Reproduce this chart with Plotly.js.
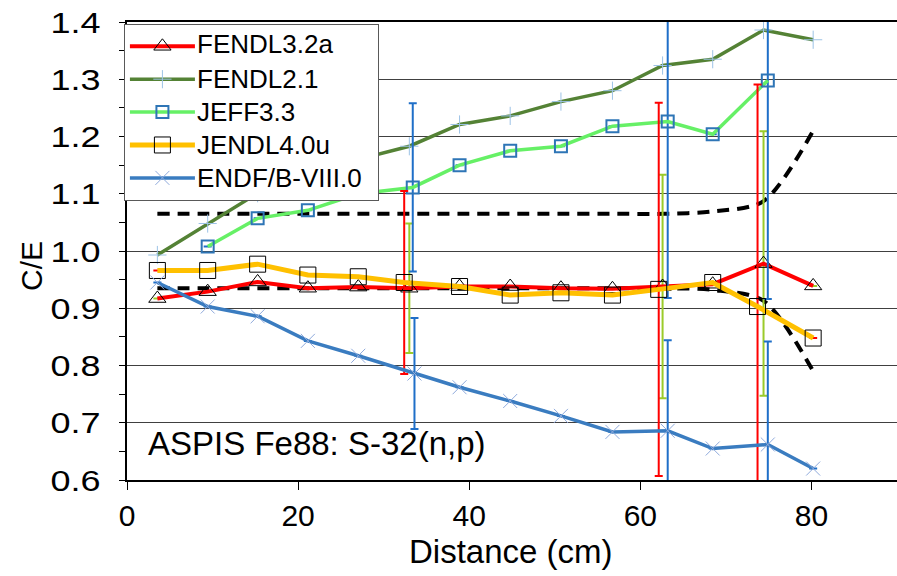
<!DOCTYPE html>
<html>
<head>
<meta charset="utf-8">
<script src="https://cdn.plot.ly/plotly-3.0.1.min.js"></script>
<style>html,body{margin:0;padding:0;background:#fff;}#chart{width:897px;height:576px;}</style>
</head>
<body>
<div id="chart"></div>
<script>
// ---- data ----
const seriesNames = ['FENDL3.2a', 'FENDL2.1', 'JEFF3.3', 'JENDL4.0u', 'ENDF/B-VIII.0'];

const fendl32X = [3.55, 9.43, 15.27, 21.14, 27.03, 33.0, 38.87, 44.79, 50.72, 56.74, 62.6, 68.46, 74.4, 80.2];
const fendl32Y = [0.917, 0.929, 0.946, 0.935, 0.937, 0.935, 0.938, 0.938, 0.935, 0.934, 0.938, 0.942, 0.978, 0.939];
const fendl32Err = [null, null, null, null, null, 0.113, null, null, null, null, 0.195, null, 0.231, null];

const fendl21X = [3.55, 9.43, 15.27, 21.14, 27.03, 33.0, 38.87, 44.79, 50.72, 56.74, 62.6, 68.46, 74.4, 80.2];
const fendl21Y = [0.993, 1.048, 1.101, 1.132, 1.160, 1.183, 1.221, 1.236, 1.261, 1.280, 1.324, 1.335, 1.386, 1.369];

const jeffX = [9.43, 15.27, 21.14, 27.03, 33.4, 38.87, 44.79, 50.72, 56.74, 63.2, 68.46, 74.9];
const jeffY = [1.008, 1.057, 1.071, 1.100, 1.111, 1.150, 1.175, 1.183, 1.218, 1.226, 1.204, 1.298];
const jeffErr = [null, null, null, null, 0.147, null, null, null, null, 0.308, null, 0.382];

const jendlX = [3.55, 9.43, 15.27, 21.14, 27.03, 32.4, 38.87, 44.79, 50.72, 56.74, 62.15, 68.46, 73.7, 80.2];
const jendlY = [0.966, 0.966, 0.977, 0.958, 0.955, 0.945, 0.938, 0.923, 0.927, 0.923, 0.933, 0.945, 0.903, 0.848];
const jendlErr = [null, null, null, null, null, 0.16, null, null, null, null, 0.326, null, 0.388, null];

const endfX = [3.55, 9.43, 15.27, 21.14, 27.03, 33.6, 38.87, 44.79, 50.72, 56.74, 63.2, 68.46, 74.9, 80.2];
const endfY = [0.945, 0.903, 0.886, 0.843, 0.817, 0.786, 0.762, 0.738, 0.712, 0.684, 0.686, 0.655, 0.662, 0.620];
const endfErr = [null, null, null, null, null, 0.097, null, null, null, null, 0.158, null, 0.180, null];

const bandX = [3.55, 9.43, 15.27, 21.14, 27.03, 33.0, 38.87, 44.79, 50.72, 56.74, 62.6, 68.46, 74.4, 80.2];
const bandUpper = [1.065, 1.065, 1.065, 1.065, 1.065, 1.065, 1.065, 1.065, 1.065, 1.065, 1.065, 1.069, 1.087, 1.21];
const bandLower = [0.935, 0.935, 0.935, 0.935, 0.935, 0.935, 0.935, 0.935, 0.935, 0.935, 0.935, 0.932, 0.913, 0.79];

const xTickVals = [0, 20, 40, 60, 80];
const yTickVals = [0.6, 0.7, 0.8, 0.9, 1.0, 1.1, 1.2, 1.3, 1.4];
const yTickText = ['0.6', '0.7', '0.8', '0.9', '1.0', '1.1', '1.2', '1.3', '1.4'];

const FONT = 'Arial, "Liberation Sans", sans-serif';
const M = {l: 127, r: 0, t: 22, b: 96};
const PH = 576 - M.t - M.b, PW = 897 - M.l - M.r;

function errBar(arr, color) {
  return {type: 'data', array: arr, visible: true, color: color, thickness: 2, width: 4};
}
// legend keys come from Plotly's legend; the labels are drawn as annotations.
// Legend entry names are blank spacers that set the box width.
const SPACER = '\u00a0'.repeat(27);

const traces = [
  {x: bandX, y: bandUpper, mode: 'lines', showlegend: false, hoverinfo: 'skip',
   line: {color: '#000', width: 4, dash: '12px,8px', shape: 'spline', smoothing: 0.8}},
  {x: bandX, y: bandLower, mode: 'lines', showlegend: false, hoverinfo: 'skip',
   line: {color: '#000', width: 4, dash: '12px,8px', shape: 'spline', smoothing: 0.8}},
  {x: fendl32X, y: fendl32Y, name: SPACER, mode: 'lines+markers',
   line: {color: '#FF0000', width: 4},
   marker: {symbol: 'triangle-up', size: 15, color: 'rgba(255,255,255,0)', line: {color: '#000', width: 1}},
   error_y: errBar(fendl32Err, '#9BCB2A')},
  {x: fendl21X, y: fendl21Y, name: SPACER, mode: 'lines+markers',
   line: {color: '#548235', width: 3.5},
   marker: {symbol: 'cross-thin', size: 13, color: '#9DC3E6', line: {color: '#9DC3E6', width: 1}}},
  {x: jeffX, y: jeffY, name: SPACER, mode: 'lines+markers',
   line: {color: '#66F066', width: 3.5},
   marker: {symbol: 'square-open', size: 12, color: '#2E75B6', line: {color: '#2E75B6', width: 2}},
   error_y: errBar(jeffErr, '#1F6FC8')},
  {x: jendlX, y: jendlY, name: SPACER, mode: 'lines+markers',
   line: {color: '#FFC000', width: 5},
   marker: {symbol: 'square-open', size: 16, color: '#000', line: {color: '#000', width: 1}},
   error_y: errBar(jendlErr, '#FF0000')},
  {x: endfX, y: endfY, name: SPACER, mode: 'lines+markers',
   line: {color: '#3A7CC0', width: 3.5},
   marker: {symbol: 'x-thin', size: 14, color: '#8FAADC', line: {color: '#8FAADC', width: 1}},
   error_y: errBar(endfErr, '#1F6FC8')}
];

const baseAnnotations = [
  {text: 'ASPIS Fe88: S-32(n,p)', xref: 'paper', yref: 'y', x: (146 - M.l) / PW, y: 0.664,
   xanchor: 'left', yanchor: 'middle', showarrow: false,
   font: {family: FONT, size: 33, color: '#000'}},
  {text: 'C/E', xref: 'paper', yref: 'paper', x: (31 - M.l) / PW, y: 1 - (266 - M.t) / PH,
   xanchor: 'center', yanchor: 'middle', showarrow: false, textangle: -90,
   font: {family: FONT, size: 30, color: '#000'}},
  {text: 'Distance (cm)', xref: 'paper', yref: 'paper', x: (511 - M.l) / PW, y: 1 - (551 - M.t) / PH,
   xanchor: 'center', yanchor: 'middle', showarrow: false,
   font: {family: FONT, size: 33, color: '#000'}}
];

const layout = {
  width: 897, height: 576,
  margin: {l: M.l, r: M.r, t: M.t, b: M.b, pad: 0},
  paper_bgcolor: '#fff', plot_bgcolor: '#fff',
  font: {family: FONT, color: '#000'},
  showlegend: true,
  legend: {
    x: -0.004, y: 0.996, xanchor: 'left', yanchor: 'top',
    bgcolor: '#fff', bordercolor: '#595959', borderwidth: 1,
    font: {family: FONT, size: 23, color: 'rgba(0,0,0,0)'},
    itemwidth: 65, tracegroupgap: 0
  },
  xaxis: {
    range: [0, 90], tickvals: xTickVals, ticks: 'outside', ticklen: 8, tickwidth: 1, tickcolor: '#000',
    showgrid: false, zeroline: false, showline: true, linecolor: '#000', linewidth: 2, mirror: true,
    tickfont: {family: FONT, size: 30, color: '#000'}
  },
  yaxis: {
    range: [0.6, 1.4], tickvals: yTickVals, ticktext: yTickText, ticks: 'outside', ticklen: 6, tickwidth: 1, tickcolor: '#000',
    minor: {dtick: 0.05, tick0: 0.6, ticks: 'outside', ticklen: 6, tickcolor: '#000', showgrid: false},
    showgrid: true, gridcolor: '#404040', gridwidth: 1, zeroline: false,
    showline: true, linecolor: '#000', linewidth: 2.5,
    tickfont: {family: FONT, size: 30, color: '#000'},
    ticklabelstandoff: 12
  },
  annotations: baseAnnotations
};

function widenYLabels(gd) {
  gd.querySelectorAll('.ytick text').forEach(function (t) {
    const x = parseFloat(t.getAttribute('x')) || 0;
    const tr = t.getAttribute('transform') || '';
    t.setAttribute('transform', tr + ' translate(' + x + ',0) scale(1.2,1) translate(' + (-x) + ',0)');
  });
}

Plotly.newPlot('chart', traces, layout, {displayModeBar: false, staticPlot: true}).then(function (gd) {
  const host = gd.getBoundingClientRect();
  const items = gd.querySelectorAll('.legend .traces');
  const extra = [];
  items.forEach(function (it, i) {
    const pts = it.querySelector('.legendpoints') || it;
    const r = pts.getBoundingClientRect();
    const cy = (r.top + r.bottom) / 2 - host.top;
    extra.push({text: seriesNames[i], xref: 'paper', yref: 'paper',
      x: (195 - M.l) / PW, y: 1 - (cy - M.t) / PH, xanchor: 'left', yanchor: 'middle',
      showarrow: false, font: {family: FONT, size: 26, color: '#000'}});
  });
  return Plotly.relayout(gd, {annotations: baseAnnotations.concat(extra)});
}).then(function (gd) {
  widenYLabels(gd);
});
</script>
</body>
</html>
